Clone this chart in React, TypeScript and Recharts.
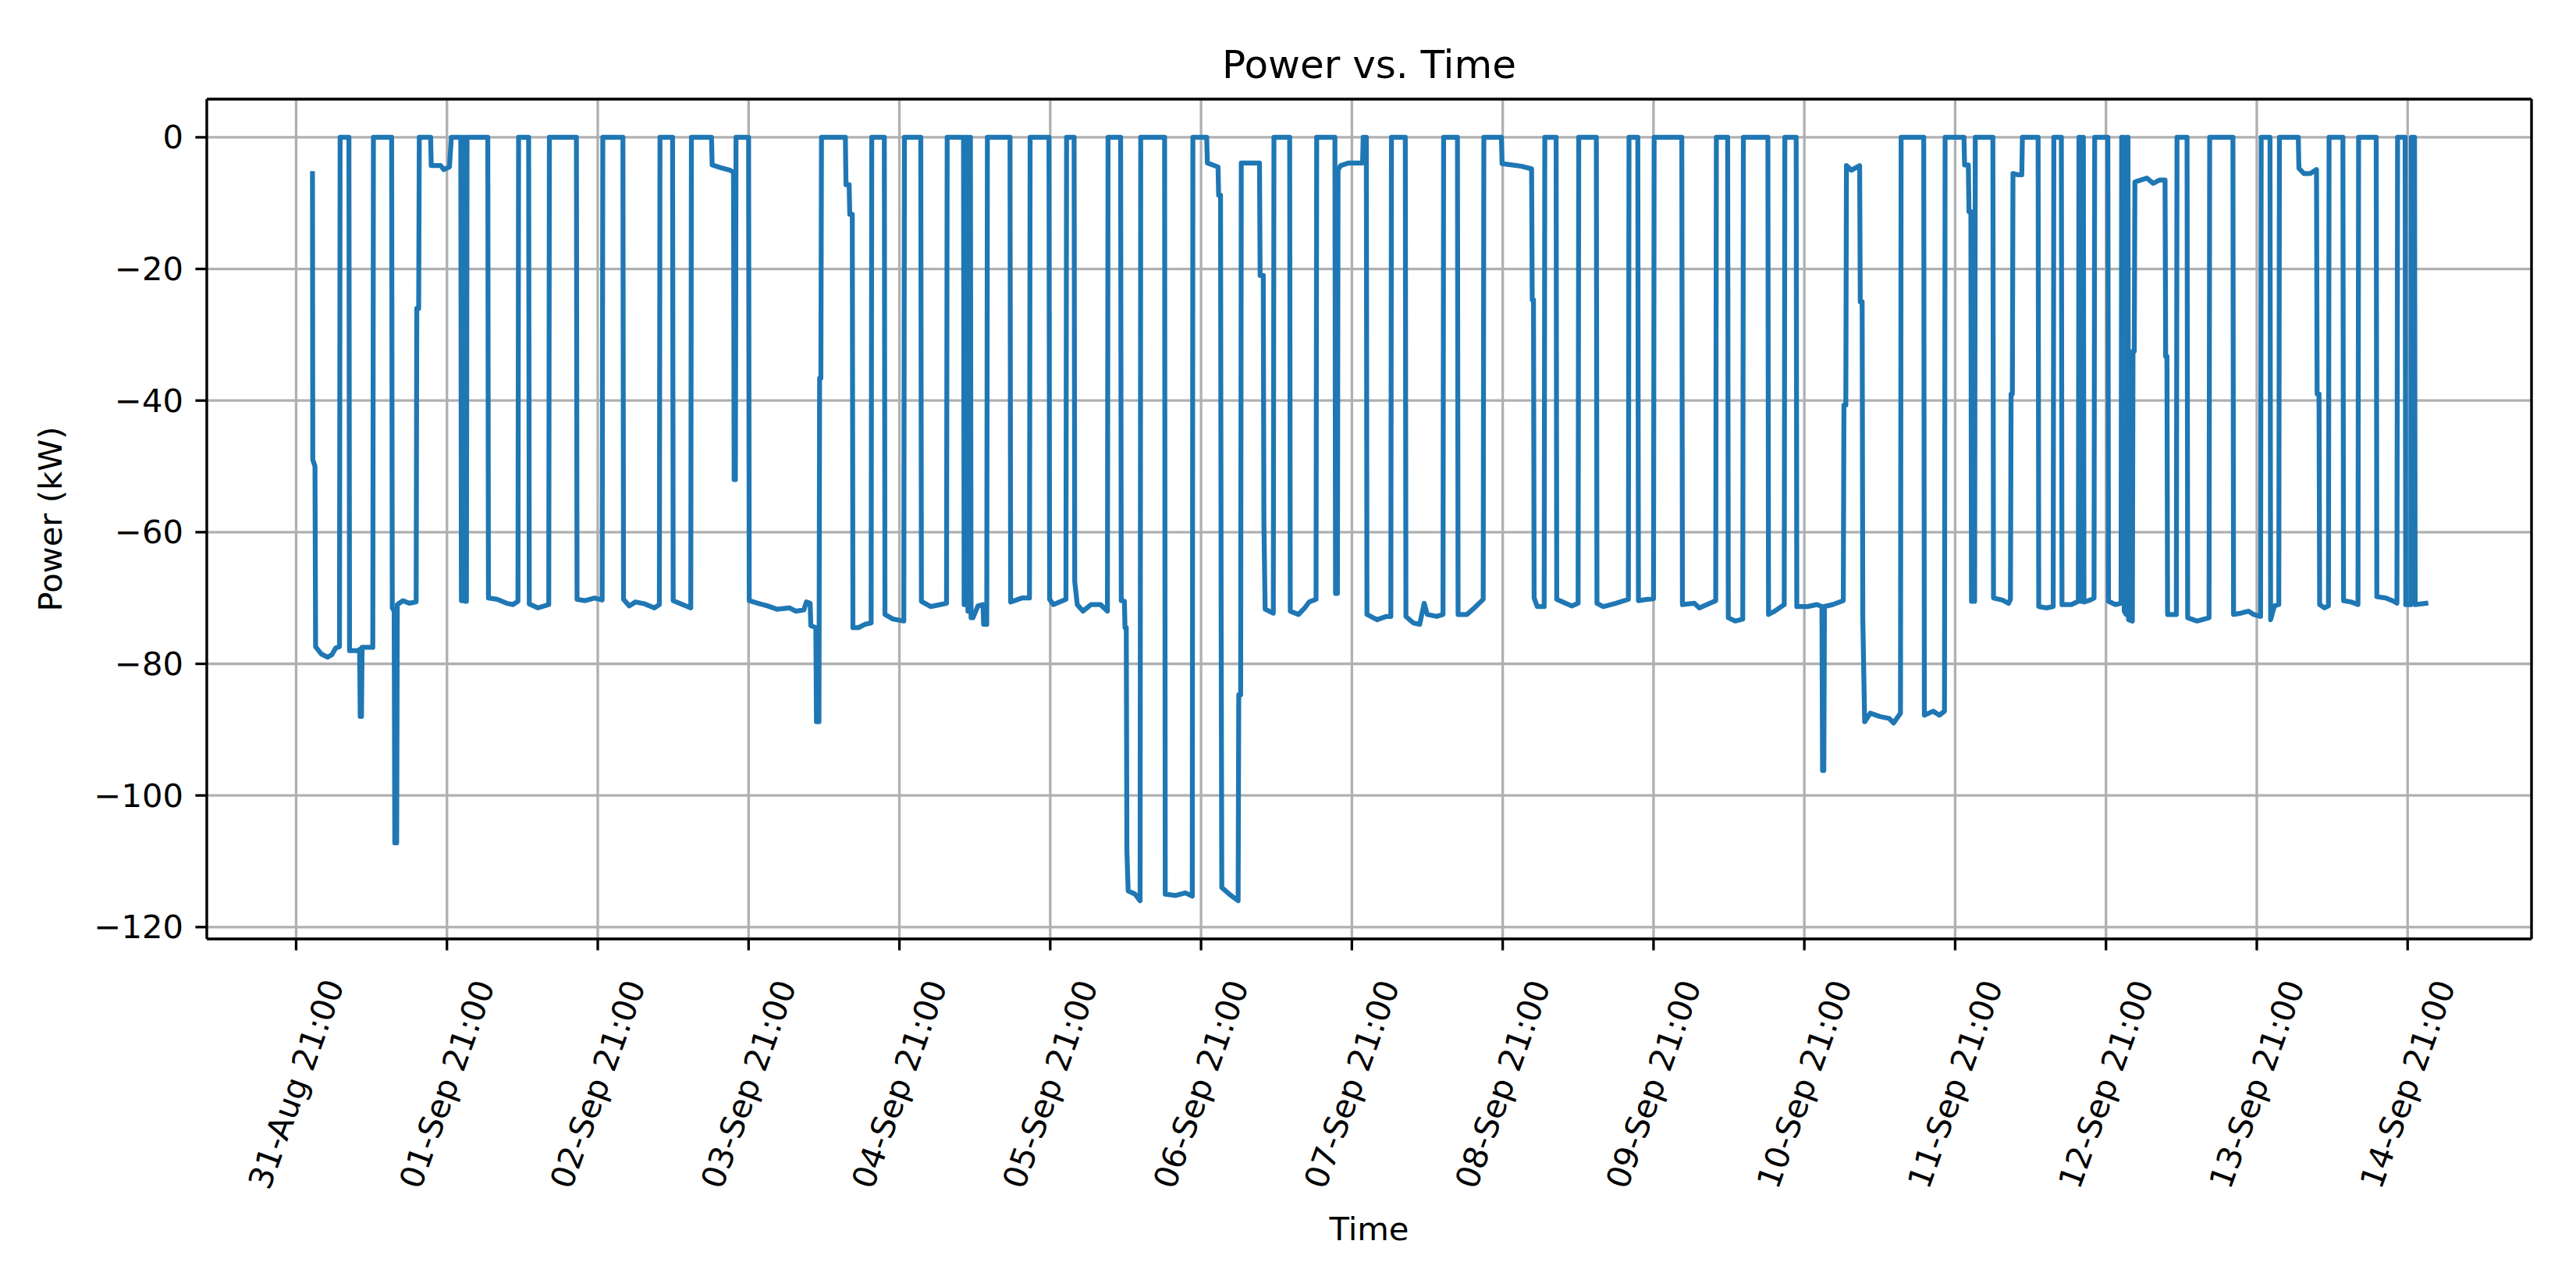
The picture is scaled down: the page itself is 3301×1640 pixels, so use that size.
import React from "react";
import { LineChart, Line, XAxis, YAxis, CartesianGrid, ReferenceLine } from "recharts";

type Reading = [number, number]; // [hours since 31-Aug 21:00, power kW]

const readingsSep01to04: Reading[] = [
  [2.6, -5.5], [2.65, -49], [3.0, -50], [3.1, -77.4], [4.0, -78.5], [5.0, -79], [5.7, -78.6], [6.3, -77.6], [6.9, -77.4], [7.0, 0],
  [8.4, 0], [8.5, -78], [9.8, -78], [10.1, -77.8], [10.2, -88], [10.4, -88], [10.5, -77.5], [12.2, -77.5], [12.3, 0],
  [15.2, 0], [15.3, -71.5], [15.6, -72], [15.7, -107.2], [16.0, -107.2], [16.1, -71], [17.0, -70.4], [18.0, -70.8], [19.1, -70.6],
  [19.2, -26], [19.5, -26], [19.6, 0], [21.4, 0], [21.5, -4.3], [23.0, -4.3], [23.5, -4.9], [24.4, -4.5], [24.7, 0],
  [26.2, 0], [26.3, -70.4], [26.5, -70.4], [26.6, 0], [26.8, 0], [26.9, -70.5], [27.1, -70.5], [27.2, 0],
  [30.5, 0], [30.6, -70], [32.0, -70.2], [33.5, -70.8], [34.5, -71], [35.3, -70.5], [35.4, 0],
  [37.0, 0], [37.1, -70.9], [38.5, -71.5], [40.2, -71], [40.3, 0],
  [44.6, 0], [44.7, -70.2], [46.0, -70.4], [47.5, -70], [48.7, -70.3], [48.8, 0],
  [52.0, 0], [52.1, -70.2], [53.0, -71.2], [54.0, -70.6], [55.5, -70.9], [57.0, -71.5], [57.8, -71], [57.9, 0],
  [59.9, 0], [60.0, -70.4], [61.5, -71], [62.8, -71.5], [62.9, 0],
  [66.1, 0], [66.2, -4.2], [67.5, -4.6], [69.0, -5.0], [69.6, -5.3], [69.7, -52], [69.9, -52], [70.0, 0],
  [72.0, 0], [72.1, -70.4], [73.5, -70.8], [75.0, -71.2], [76.5, -71.7], [78.5, -71.5], [79.5, -72], [80.8, -71.8],
  [81.2, -70.6], [81.8, -70.8], [81.9, -74.2], [82.7, -74.5], [82.8, -88.8], [83.2, -88.8], [83.3, -36.6], [83.5, -36.6], [83.6, 0],
  [87.4, 0], [87.5, -7.2], [88.0, -7.2], [88.1, -11.7], [88.5, -11.7], [88.6, -74.5], [89.5, -74.5], [90.5, -74], [91.5, -73.8], [91.6, 0],
  [93.6, 0], [93.7, -72.5], [95.0, -73.2], [96.7, -73.5], [96.8, 0],
];

const readingsSep05to08: Reading[] = [
  [99.4, 0], [99.5, -70.5], [101.0, -71.3], [102.5, -71], [103.5, -70.8], [103.6, 0],
  [106.2, 0], [106.3, -71], [106.5, -71], [106.6, 0], [106.8, 0], [106.9, -72], [107.1, -72], [107.2, 0], [107.3, 0],
  [107.4, -73], [107.7, -73], [108.5, -71.2], [109.3, -71], [109.4, -74], [109.9, -74], [110.0, 0],
  [113.6, 0], [113.7, -70.6], [115.5, -70], [116.7, -70], [116.8, 0],
  [119.8, 0], [119.9, -70.2], [120.5, -71], [122.5, -70.2], [122.6, 0],
  [123.8, 0], [123.9, -67.5], [124.3, -71], [125.2, -72], [126.5, -71], [128.0, -71], [129.1, -72], [129.2, 0],
  [131.2, 0], [131.3, -70.4], [131.8, -70.5], [131.9, -74.5], [132.1, -74.5], [132.2, -108.4], [132.4, -114.5], [133.5, -115], [134.3, -116], [134.4, 0],
  [138.2, 0], [138.3, -115], [140.0, -115.2], [141.5, -114.8], [142.6, -115.3], [142.7, 0],
  [144.9, 0], [145.0, -3.9], [146.7, -4.5], [146.8, -8.8], [147.1, -8.8], [147.2, -75], [147.3, -114], [148.5, -115], [149.9, -116],
  [150.0, -84.7], [150.3, -84.7], [150.4, -3.9], [153.3, -3.9], [153.4, -21], [153.9, -21], [154.0, -58.6], [154.2, -71.7], [155.5, -72.3], [155.6, 0],
  [158.1, 0], [158.2, -72], [159.5, -72.5], [160.5, -71.5], [161.2, -70.6], [162.3, -70.2], [162.4, 0],
  [165.3, 0], [165.4, -69.3], [165.7, -69.3], [165.8, -5.0], [166.2, -4.3], [167.5, -3.9], [169.7, -3.9], [169.8, 0],
  [170.3, 0], [170.4, -72.5], [172.0, -73.3], [173.5, -72.8], [174.2, -72.8], [174.3, 0],
  [176.5, 0], [176.6, -72.8], [177.8, -73.8], [178.8, -74], [179.5, -70.8], [180.0, -72.5], [181.5, -72.8], [182.5, -72.5], [182.6, 0],
  [184.8, 0], [184.9, -72.5], [186.3, -72.5], [187.5, -71.5], [188.9, -70.2], [189.0, 0],
  [191.8, 0], [191.9, -4.0],
];

const readingsSep09to12: Reading[] = [
  [193.5, -4.2], [195.0, -4.4], [196.6, -4.8], [196.7, -24.7], [196.9, -24.7], [197.0, -70], [197.5, -71.3], [198.6, -71.3], [198.7, 0],
  [200.5, 0], [200.6, -70.2], [202.0, -70.8], [203.0, -71.2], [204.0, -70.8], [204.1, 0],
  [206.9, 0], [207.0, -70.8], [208.0, -71.3], [210.0, -70.8], [212.0, -70.2], [212.1, 0],
  [213.5, 0], [213.6, -70.4], [215.0, -70.2], [216.0, -70.1], [216.1, 0],
  [220.5, 0], [220.6, -71], [222.5, -70.8], [223.3, -71.5], [225.9, -70.4], [226.0, 0],
  [227.8, 0], [227.9, -73], [229.0, -73.5], [230.2, -73.2], [230.3, 0],
  [234.2, 0], [234.3, -72.5], [235.3, -72], [236.8, -71], [236.9, 0],
  [238.7, 0], [238.8, -71.3], [240.5, -71.3], [242.0, -71], [242.8, -71.3], [242.9, -96.2], [243.1, -96.2], [243.2, -71.3],
  [244.5, -71], [246.2, -70.4], [246.3, -40.7], [246.6, -40.7], [246.7, -4.3], [247.5, -5], [248.8, -4.3],
  [248.9, -25], [249.2, -25], [249.3, -73], [249.6, -88.8], [250.5, -87.5], [252.0, -88], [253.5, -88.3], [254.2, -89], [255.3, -87.5], [255.4, 0],
  [259.0, 0], [259.1, -87.8], [260.5, -87.2], [261.5, -87.8], [262.3, -87.2], [262.4, 0],
  [265.4, 0], [265.5, -4.2], [266.1, -4.2], [266.2, -11.3], [266.5, -11.3], [266.6, -70.5], [267.1, -70.5], [267.2, 0],
  [270.0, 0], [270.1, -70],
];

const readingsSep13to15: Reading[] = [
  [271.5, -70.3], [272.5, -70.8], [272.8, -70.2], [272.9, -39], [273.1, -39], [273.2, -5.5], [274.0, -5.7], [274.6, -5.7], [274.7, 0],
  [277.2, 0], [277.3, -71.3], [278.5, -71.5], [279.6, -71.3], [279.7, 0],
  [280.9, 0], [281.0, -71], [282.5, -71], [283.6, -70.5], [283.7, 0], [283.9, 0], [284.0, -70.5], [284.2, -70.5], [284.3, 0],
  [284.4, 0], [284.5, -70.6], [285.5, -70.3], [286.1, -70], [286.2, 0],
  [288.3, 0], [288.4, -70.5], [289.5, -71], [290.4, -70.8], [290.5, 0], [290.8, 0], [290.9, -72], [291.2, -72.5], [291.3, 0],
  [291.5, 0], [291.6, -73.3], [292.2, -73.5], [292.3, -32.5], [292.5, -32.5], [292.6, -6.8], [293.5, -6.5], [294.5, -6.2],
  [295.5, -7.0], [296.5, -6.5], [297.4, -6.5], [297.5, -33.3], [297.7, -33.3], [297.8, -72.5], [299.2, -72.5], [299.3, 0],
  [300.9, 0], [301.0, -73], [302.5, -73.5], [304.4, -73], [304.5, 0],
  [308.2, 0], [308.3, -72.5], [309.5, -72.3], [310.7, -72], [311.5, -72.5], [312.6, -72.8], [312.7, 0],
  [314.1, 0], [314.2, -73.3], [314.8, -71.2], [315.5, -71], [315.6, 0],
  [318.6, 0], [318.7, -4.7], [319.5, -5.5], [320.5, -5.5], [321.5, -4.9], [321.6, -39], [321.9, -39], [322.0, -71],
  [322.8, -71.5], [323.4, -71.2], [323.5, 0],
  [325.7, 0], [325.8, -70.4], [327.0, -70.6], [328.1, -71], [328.2, 0],
  [331.0, 0], [331.1, -69.8], [332.5, -70], [333.8, -70.5], [334.3, -70.8], [334.4, 0],
  [335.6, 0], [335.7, -71], [336.5, -71], [336.6, 0], [337.1, 0], [337.2, -71], [338.9, -70.8],
];

const tickHours = [0, 24, 48, 72, 96, 120, 144, 168, 192, 216, 240, 264, 288, 312, 336];
const tickLabels = [
  "31-Aug 21:00", "01-Sep 21:00", "02-Sep 21:00", "03-Sep 21:00", "04-Sep 21:00",
  "05-Sep 21:00", "06-Sep 21:00", "07-Sep 21:00", "08-Sep 21:00", "09-Sep 21:00",
  "10-Sep 21:00", "11-Sep 21:00", "12-Sep 21:00", "13-Sep 21:00", "14-Sep 21:00",
];
const powerTicks = [0, -20, -40, -60, -80, -100, -120];

const allReadings: Reading[] = [...readingsSep01to04, ...readingsSep05to08, ...readingsSep09to12, ...readingsSep13to15];
const data = allReadings.map(([h, p]) => ({ h, p }));

const hs = allReadings.map((r) => r[0]);
const ps = allReadings.map((r) => r[1]);
const hMin = Math.min(...hs), hMax = Math.max(...hs);
const pMin = Math.min(...ps), pMax = Math.max(...ps);
const xDomain: [number, number] = [hMin - 0.05 * (hMax - hMin), hMax + 0.05 * (hMax - hMin)];
const yDomain: [number, number] = [pMin - 0.05 * (pMax - pMin), pMax + 0.05 * (pMax - pMin)];

const W = 3301, H = 1640;
const PLOT_LEFT = 265, PLOT_RIGHT = 3244, PLOT_TOP = 127, PLOT_BOTTOM = 1203;
const FONT = "'DejaVu Sans', sans-serif";
const TICK_FS = 41.67;
const LW = 3.3;

const fmt = (v: number) => (v < 0 ? "\u2212" + Math.abs(v) : String(v));

const XTick = (props: any) => {
  const { x, payload } = props;
  const idx = tickHours.indexOf(payload.value);
  const label = idx >= 0 ? tickLabels[idx] : "";
  const cy = PLOT_BOTTOM + 186;
  return (
    <text x={x} y={cy} textAnchor="middle" dominantBaseline="central" transform={`rotate(-70 ${x} ${cy})`}
      fontFamily={FONT} fontSize={TICK_FS} fill="#000">{label}</text>
  );
};

const YTick = (props: any) => {
  const { y, payload } = props;
  return (
    <text x={PLOT_LEFT - 30} y={y} textAnchor="end" dominantBaseline="central"
      fontFamily={FONT} fontSize={TICK_FS} fill="#000">{fmt(payload.value)}</text>
  );
};

export default function App() {
  return (
    <div style={{ position: "absolute", left: 0, top: 0, width: W, height: H, background: "#fff" }}>
      <LineChart width={W} height={H} data={data}
        margin={{ top: PLOT_TOP, right: W - PLOT_RIGHT, bottom: 0, left: 0 }}>
        <CartesianGrid stroke="#b0b0b0" strokeWidth={LW} />
        <XAxis type="number" dataKey="h" domain={xDomain} ticks={tickHours} interval={0} allowDataOverflow
          height={H - PLOT_BOTTOM} tick={<XTick />} tickSize={14.6} tickMargin={14.6}
          tickLine={{ stroke: "#000", strokeWidth: LW }} axisLine={{ stroke: "#000", strokeWidth: LW }} />
        <YAxis type="number" dataKey="p" domain={yDomain} ticks={powerTicks} interval={0} allowDataOverflow
          width={PLOT_LEFT} tick={<YTick />} tickSize={14.6} tickMargin={14.6}
          tickLine={{ stroke: "#000", strokeWidth: LW }} axisLine={{ stroke: "#000", strokeWidth: LW }} />
        <Line type="linear" dataKey="p" stroke="#1f77b4" strokeWidth={6.25} dot={false} activeDot={false}
          isAnimationActive={false} strokeLinejoin="round" strokeLinecap="square" />
        <ReferenceLine y={yDomain[1]} stroke="#000" strokeWidth={LW} ifOverflow="visible" />
        <ReferenceLine x={xDomain[1]} stroke="#000" strokeWidth={LW} ifOverflow="visible" />
      </LineChart>
      <svg width={W} height={H} style={{ position: "absolute", left: 0, top: 0, pointerEvents: "none" }}>
        <text x={(PLOT_LEFT + PLOT_RIGHT) / 2} y={100} textAnchor="middle" fontFamily={FONT} fontSize={50} fill="#000">
          Power vs. Time
        </text>
        <text x={(PLOT_LEFT + PLOT_RIGHT) / 2} y={1589} textAnchor="middle" fontFamily={FONT} fontSize={TICK_FS} fill="#000">
          Time
        </text>
        <text x={0} y={0} transform={`translate(64 ${(PLOT_TOP + PLOT_BOTTOM) / 2}) rotate(-90)`} textAnchor="middle"
          dominantBaseline="central" fontFamily={FONT} fontSize={TICK_FS} fill="#000">
          Power (kW)
        </text>
      </svg>
    </div>
  );
}
